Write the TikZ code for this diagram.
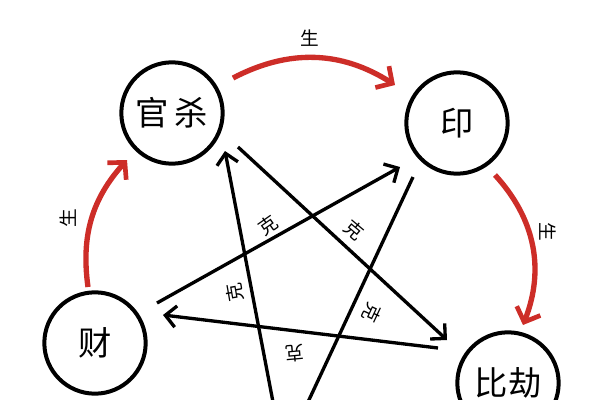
\documentclass[tikz,border=0pt]{standalone}
\usepackage{fontspec}
\setmainfont{Noto Sans CJK SC}
\usetikzlibrary{arrows.meta}
\definecolor{shengred}{RGB}{205,45,40}
\tikzset{
		starNode/.style = {circle,draw,line width=3pt,minimum size=76pt,inner sep=0pt,font=\fontsize{25}{25}\selectfont},
		keEdge/.style =   {line width=2.5pt,-{Straight Barb[length=8pt,width=16pt,line width=2.5pt]}},
		keLine/.style =   {line width=2.5pt},
		shengEdge/.style = {shengred,line width=4pt,-{Straight Barb[length=9pt,width=19pt,line width=3.5pt]}},
		keText/.style =   {font=\fontsize{14}{14}\selectfont},
		shengText/.style = {font=\fontsize{14}{14}\selectfont}
}

\begin{document}
\begin{tikzpicture}[x=0.75pt,y=-0.75pt]
  \useasboundingbox (0,0) rectangle (600,400);

  % Circles of the five elements
  \node [starNode] (guansha) at (172,113) {官\,杀};
  \node [starNode] (yin)     at (457,123) {印};
  \node [starNode] (bijie)   at (508,383) {比劫};
  \node [starNode] (cai)     at (95,343)  {财};

  % Ends of the lines that leave the picture
  \coordinate (bottomA) at (273,402);
  \coordinate (bottomB) at (308,402);

  % Sheng arcs
  \draw [shengEdge] (233,78) to[bend left=30] (395,85);
  \draw [shengEdge] (495,175) to[bend left=32] (523,325);
  \draw [shengEdge] (88,287) to[bend left=25] (127,160);

  \node [shengText] (shengTop)   at (310,38)  {生};
  \node [shengText, rotate=-90] (shengRight) at (548,232) {生};
  \node [shengText, rotate=90]  (shengLeft)  at (68,218)  {生};

  % Ke lines of the star
  \draw [keEdge] (bottomA) -- (225,151);
  \draw [keEdge] (238,147) -- (447,340);
  \draw [keEdge] (157,303) -- (400,167);
  \draw [keLine] (413,177) -- (bottomB);
  \draw [keEdge] (438,348) -- (163,315);

  \node [keText, rotate=35]  (keOne)   at (268,225) {克};
  \node [keText, rotate=-40] (keTwo)   at (354,230) {克};
  \node [keText, rotate=100] (keThree) at (235,293) {克};
  \node [keText, rotate=245] (keFour)  at (372,313) {克};
  \node [keText, rotate=185] (keFive)  at (295,353) {克};

\end{tikzpicture}
\end{document}
